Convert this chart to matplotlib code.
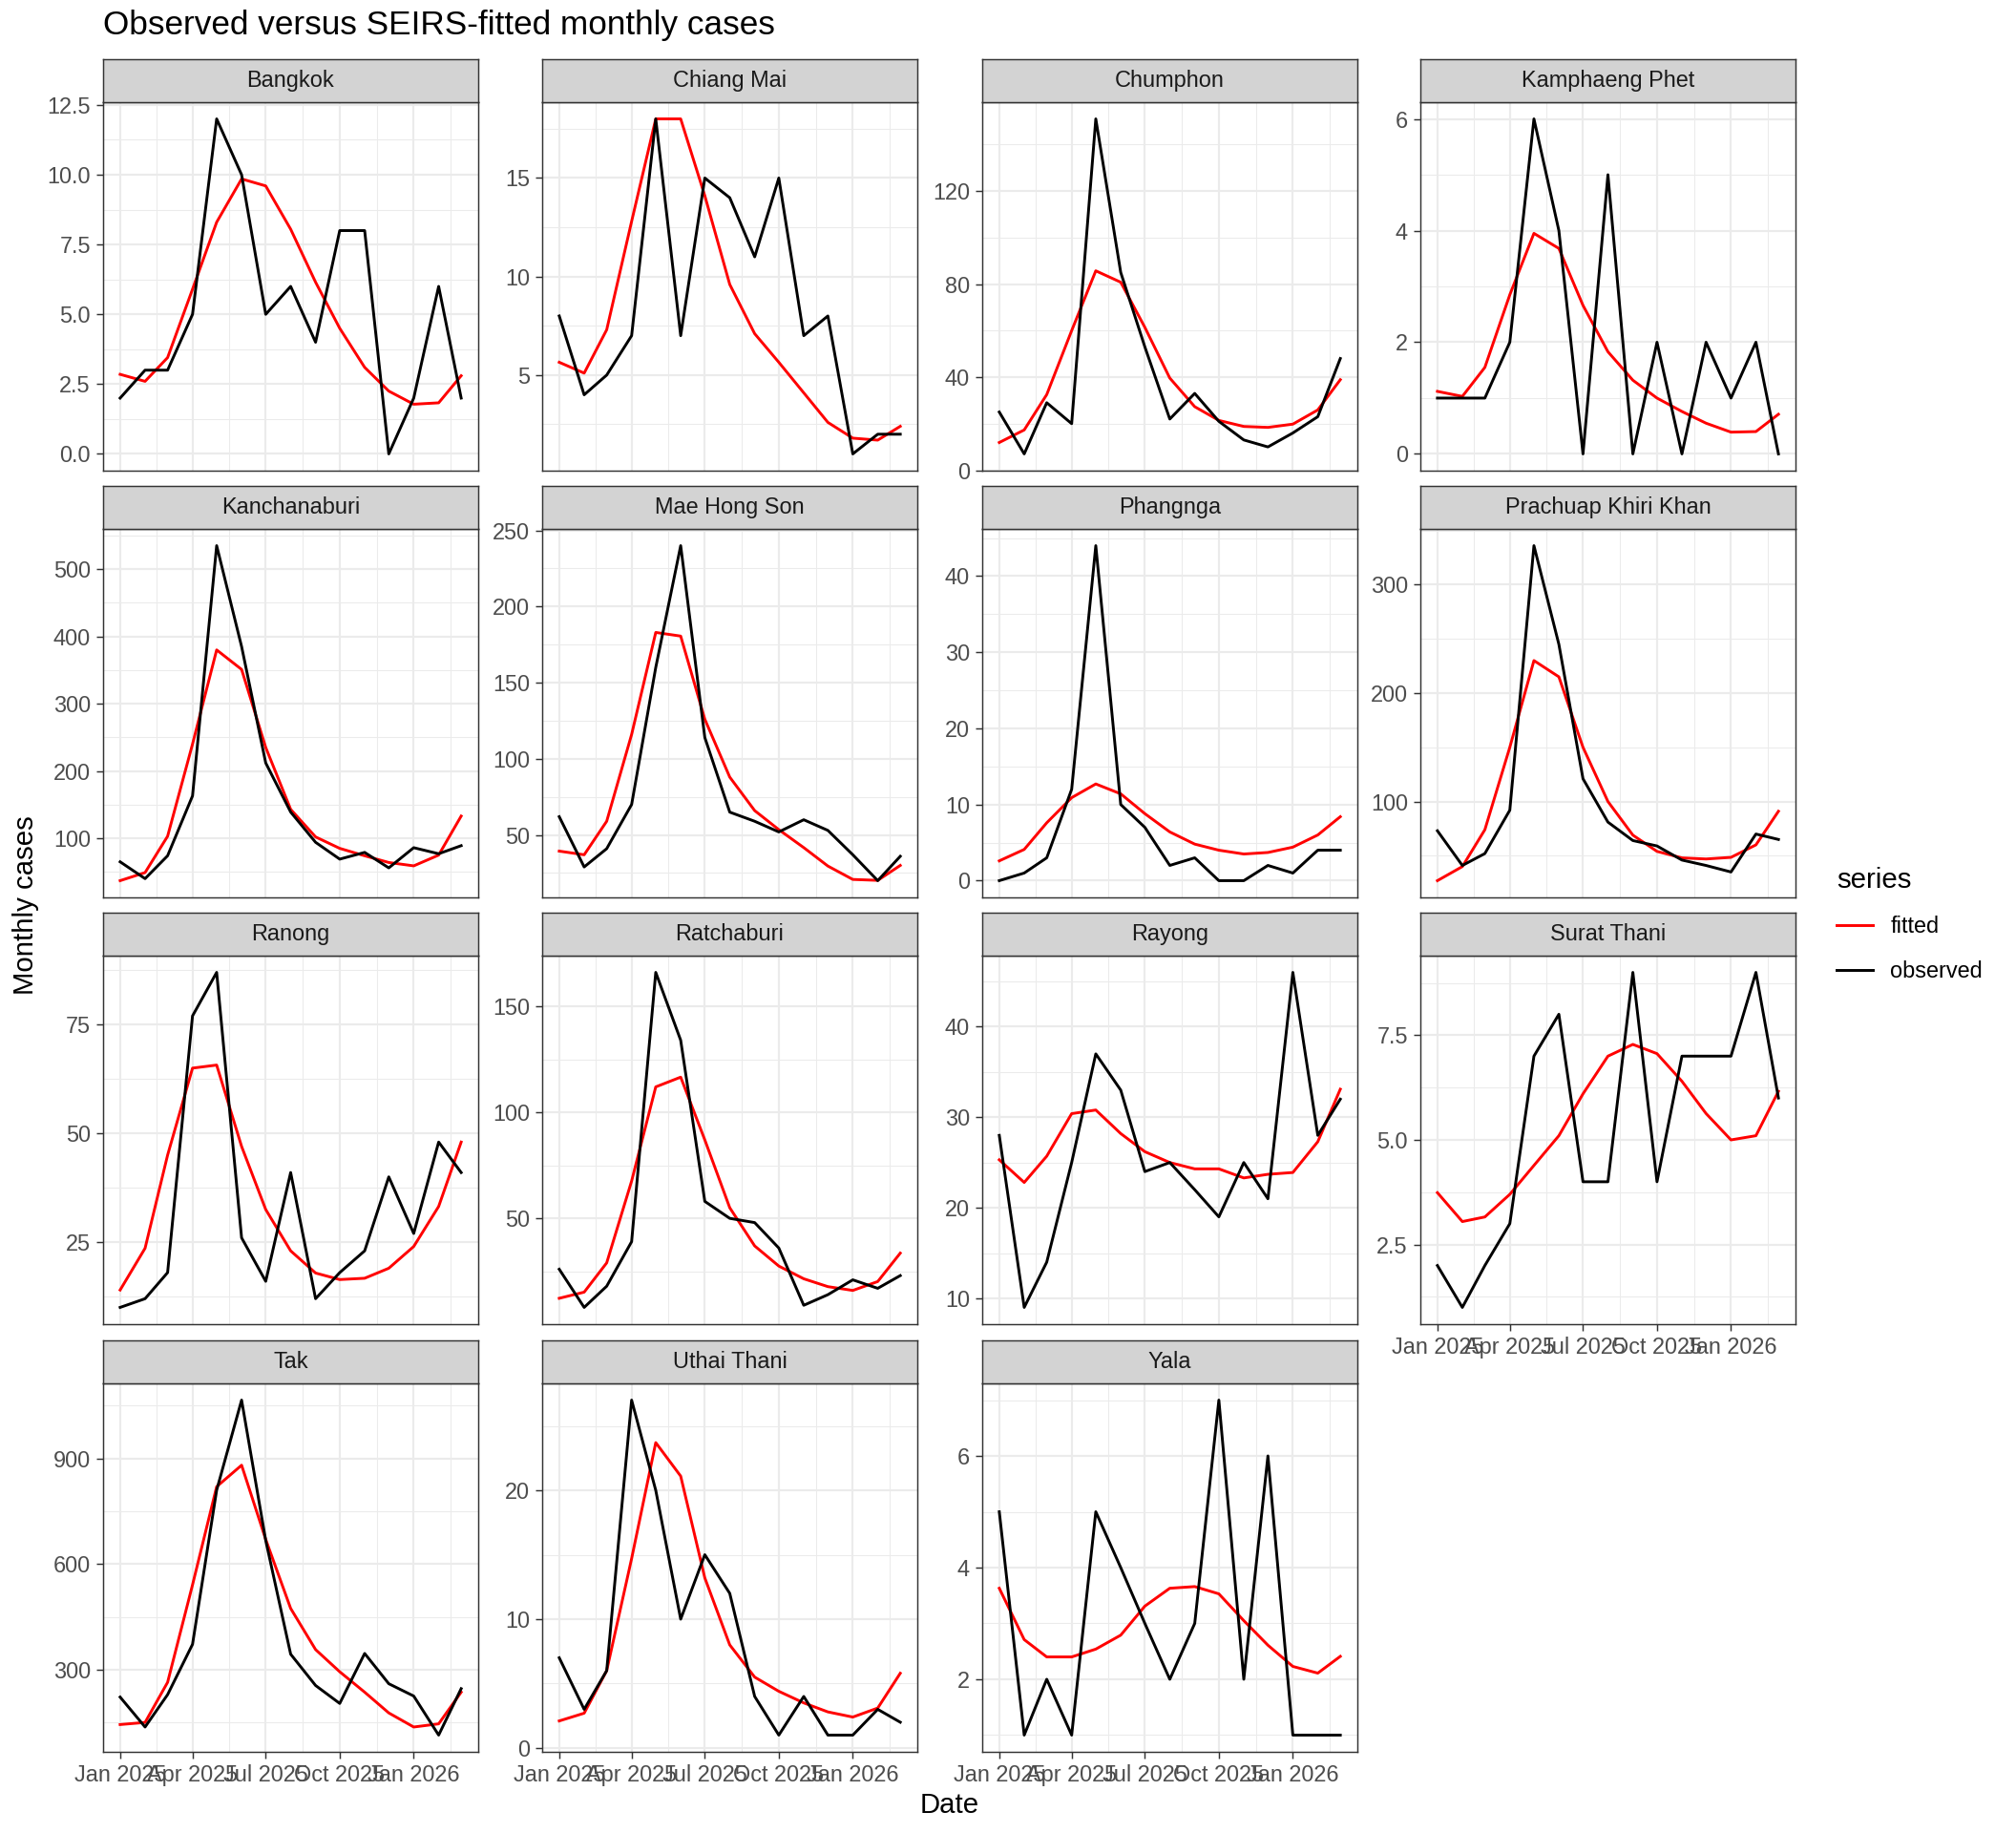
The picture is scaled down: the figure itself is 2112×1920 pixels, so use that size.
# Observed versus SEIRS-fitted monthly cases, one panel per province
import numpy as np
import pandas as pd
import matplotlib
matplotlib.use("Agg")
import matplotlib.pyplot as plt
import matplotlib.dates as mdates

plt.rcParams["font.family"] = ["Liberation Sans", "DejaVu Sans"]

# ----------------------------------------------------------
# data
# ----------------------------------------------------------

months = pd.date_range("2025-01-01", "2026-03-01", freq="MS")

provinces = [
    "Bangkok", "Chiang Mai", "Chumphon", "Kamphaeng Phet",
    "Kanchanaburi", "Mae Hong Son", "Phangnga", "Prachuap Khiri Khan",
    "Ranong", "Ratchaburi", "Rayong", "Surat Thani",
    "Tak", "Uthai Thani", "Yala",
]

bangkok_obs = [2, 3, 3, 5, 12, 10, 5, 6, 4, 8, 8, 0, 2, 6, 2]
bangkok_fit = [2.85, 2.6, 3.45, 5.9, 8.3, 9.85, 9.6, 8.05, 6.15, 4.5, 3.1, 2.25, 1.78, 1.83, 2.8]

chiang_mai_obs = [8, 4, 5, 7, 18, 7, 15, 14, 11, 15, 7, 8, 1, 2, 2]
chiang_mai_fit = [5.65, 5.1, 7.3, 12.8, 18.0, 18.0, 14.1, 9.6, 7.1, 5.65, 4.1, 2.6, 1.8, 1.7, 2.4]

chumphon_obs = [25, 7, 29, 20, 151, 85, 53, 22, 33, 21, 13, 10, 16, 23, 48]
chumphon_fit = [11.9, 17.3, 32.5, 60, 85.7, 80.8, 61.4, 39.6, 27.3, 21.4, 18.8, 18.4, 19.8, 25.9, 38.9]

kamphaeng_obs = [1, 1, 1, 2, 6, 4, 0, 5, 0, 2, 0, 2, 1, 2, 0]
kamphaeng_fit = [1.12, 1.03, 1.55, 2.85, 3.95, 3.68, 2.66, 1.83, 1.32, 1.0, 0.76, 0.55, 0.39, 0.40, 0.71]

kanchanaburi_obs = [65, 40, 74, 163, 535, 385, 212, 139, 94, 69, 79, 56, 86, 77, 89]
kanchanaburi_fit = [37, 49, 103, 240, 380, 351, 235, 143, 102, 85, 74, 64, 59, 75, 133]

mae_hong_son_obs = [62, 29, 41, 70, 160, 240, 114, 65, 59, 52, 60, 53, 37, 20, 36]
mae_hong_son_fit = [39.4, 37, 59, 116, 183, 180.6, 126, 88, 66, 53.5, 41.7, 29.6, 20.8, 20.2, 30]

phangnga_obs = [0, 1, 3, 12, 44, 10, 7, 2, 3, 0, 0, 2, 1, 4, 4]
phangnga_fit = [2.6, 4.1, 7.6, 10.9, 12.7, 11.4, 8.8, 6.4, 4.8, 4.0, 3.5, 3.7, 4.4, 6.0, 8.4]

prachuap_obs = [73, 41, 52, 92, 336, 245, 121, 81, 64, 59, 46, 41, 35, 70, 65]
prachuap_fit = [27, 40, 74, 150, 230, 215, 150, 100, 69, 54, 48, 47, 48.5, 60, 91]

ranong_obs = [10, 12, 18, 77, 87, 26, 16, 41, 12, 18, 23, 40, 27, 48, 41]
ranong_fit = [14, 23.6, 45, 65, 65.7, 47, 32.5, 23, 17.9, 16.4, 16.7, 19, 24, 33.2, 48]

ratchaburi_obs = [26, 8, 18, 39, 166, 134, 58, 50, 48, 36, 9, 14, 21, 17, 23]
ratchaburi_fit = [12.3, 15.2, 29, 67.6, 112, 116.6, 87, 55, 37, 27.5, 21.5, 17.8, 16, 20.2, 33.6]

rayong_obs = [28, 9, 14, 25, 37, 33, 24, 25, 22, 19, 25, 21, 46, 28, 32]
rayong_fit = [25.3, 22.8, 25.7, 30.4, 30.8, 28.2, 26.2, 25, 24.3, 24.3, 23.3, 23.7, 23.9, 27.3, 33.1]

surat_thani_obs = [2, 1, 2, 3, 7, 8, 4, 4, 9, 4, 7, 7, 7, 9, 6]
surat_thani_fit = [3.74, 3.05, 3.16, 3.7, 4.39, 5.1, 6.1, 7.0, 7.28, 7.06, 6.4, 5.63, 5.0, 5.1, 6.16]

tak_obs = [222, 137, 229, 372, 810, 1066, 667, 344, 255, 204, 346, 260, 225, 114, 246]
tak_fit = [144, 150, 264, 541, 820, 881, 670, 474, 357, 294, 236, 177, 137, 146, 236]

uthai_thani_obs = [7, 3, 6, 27, 20, 10, 15, 12, 4, 1, 4, 1, 1, 3, 2]
uthai_thani_fit = [2.1, 2.7, 6.0, 14.7, 23.7, 21.1, 13.2, 8.0, 5.5, 4.4, 3.5, 2.8, 2.4, 3.1, 5.8]

yala_obs = [5, 1, 2, 1, 5, 4, 3, 2, 3, 7, 2, 6, 1, 1, 1]
yala_fit = [3.63, 2.71, 2.4, 2.4, 2.54, 2.79, 3.31, 3.63, 3.66, 3.53, 3.05, 2.61, 2.23, 2.11, 2.41]

observed = [
    bangkok_obs, chiang_mai_obs, chumphon_obs, kamphaeng_obs,
    kanchanaburi_obs, mae_hong_son_obs, phangnga_obs, prachuap_obs,
    ranong_obs, ratchaburi_obs, rayong_obs, surat_thani_obs,
    tak_obs, uthai_thani_obs, yala_obs,
]
fitted = [
    bangkok_fit, chiang_mai_fit, chumphon_fit, kamphaeng_fit,
    kanchanaburi_fit, mae_hong_son_fit, phangnga_fit, prachuap_fit,
    ranong_fit, ratchaburi_fit, rayong_fit, surat_thani_fit,
    tak_fit, uthai_thani_fit, yala_fit,
]

# y breaks per panel (ggplot's choice)
y_breaks = [
    [0, 2.5, 5, 7.5, 10, 12.5], [5, 10, 15], [0, 40, 80, 120], [0, 2, 4, 6],
    [100, 200, 300, 400, 500], [50, 100, 150, 200, 250], [0, 10, 20, 30, 40], [100, 200, 300],
    [25, 50, 75], [50, 100, 150], [10, 20, 30, 40], [2.5, 5.0, 7.5],
    [300, 600, 900], [0, 10, 20], [2, 4, 6],
]
y_decimals = [1, 0, 0, 0, 0, 0, 0, 0, 0, 0, 0, 1, 0, 0, 0]

x_break_dates = pd.to_datetime(["2025-01-01", "2025-04-01", "2025-07-01", "2025-10-01", "2026-01-01"])
x_break_labels = ["Jan 2025", "Apr 2025", "Jul 2025", "Oct 2025", "Jan 2026"]

series_labels = ["fitted", "observed"]
series_colors = ["red", "black"]

# ----------------------------------------------------------
# layout (pixels of the 2112 x 1920 canvas)
# ----------------------------------------------------------

W, H = 2112, 1920
DPI = 192
col_left = [108, 568, 1029, 1488]
row_top = [62, 509, 956, 1404]
PW, PH, SH = 393, 386, 45

GRID = "#EBEBEB"
DARK = "#333333"
TXT = "#4D4D4D"

fig = plt.figure(figsize=(W / DPI, H / DPI), dpi=DPI)

xnum = mdates.date2num(months)
span = xnum[-1] - xnum[0]
xlim = (xnum[0] - 0.05 * span, xnum[-1] + 0.05 * span)
major_num = mdates.date2num(x_break_dates)
minor_num = (major_num[:-1] + major_num[1:]) / 2
minor_num = np.append(minor_num, major_num[-1] + (major_num[-1] - major_num[-2]) / 2)
minor_num = minor_num[(minor_num > xlim[0]) & (minor_num < xlim[1])]

bottom_panels = {11, 12, 13, 14}
handles = None

for i, name in enumerate(provinces):
    r, c = divmod(i, 4)
    left = col_left[c]
    top = row_top[r]

    ax = fig.add_axes([left / W, (H - top - SH - PH) / H, PW / W, PH / H])
    strip = fig.add_axes([left / W, (H - top - SH) / H, PW / W, SH / H])

    l1, = ax.plot(months, fitted[i], color=series_colors[0], lw=1.1, zorder=3)
    l2, = ax.plot(months, observed[i], color=series_colors[1], lw=1.1, zorder=4)
    if handles is None:
        handles = [l1, l2]

    vals = np.array(fitted[i] + observed[i], dtype=float)
    lo, hi = vals.min(), vals.max()
    pad = 0.05 * (hi - lo)
    ylim = (lo - pad, hi + pad)
    ax.set_ylim(*ylim)
    ax.set_xlim(*xlim)

    br = [b for b in y_breaks[i] if ylim[0] <= b <= ylim[1]]
    step = y_breaks[i][1] - y_breaks[i][0]
    minors = np.arange(y_breaks[i][0] - step / 2, ylim[1], step)
    minors = [m for m in minors if ylim[0] <= m <= ylim[1]]
    ax.set_yticks(br)
    ax.set_yticklabels([f"{b:.{y_decimals[i]}f}" for b in br])
    ax.set_yticks(minors, minor=True)

    ax.set_xticks(major_num)
    ax.set_xticks(minor_num, minor=True)
    if i in bottom_panels:
        ax.set_xticklabels(x_break_labels)
        ax.tick_params(axis="x", which="major", length=7.3 * 72 / DPI, width=0.55,
                       color=DARK, labelsize=8.8, labelcolor=TXT, pad=2.2)
    else:
        ax.set_xticklabels([])
        ax.tick_params(axis="x", which="major", length=0)

    ax.tick_params(axis="y", which="major", length=7.3 * 72 / DPI, width=0.55,
                   color=DARK, labelsize=8.8, labelcolor=TXT, pad=2.2)
    ax.tick_params(which="minor", length=0)

    ax.grid(which="major", color=GRID, lw=0.8)
    ax.grid(which="minor", color=GRID, lw=0.4)
    ax.set_axisbelow(True)
    for s in ax.spines.values():
        s.set_color(DARK)
        s.set_linewidth(0.55)

    strip.set_facecolor("#D3D3D3")
    strip.set_xticks([])
    strip.set_yticks([])
    for s in strip.spines.values():
        s.set_color(DARK)
        s.set_linewidth(0.55)
    strip.text(0.5, 0.5, name, ha="center", va="center",
               fontsize=8.8, color="#1A1A1A", transform=strip.transAxes)

# ----------------------------------------------------------
# titles and legend
# ----------------------------------------------------------

fig.text(108 / W, 1 - 36 / H, "Observed versus SEIRS-fitted monthly cases",
         fontsize=13.2, ha="left", va="baseline")
fig.text(995 / W, 1 - 1891 / H, "Date", fontsize=11, ha="center", va="center")
fig.text(27 / W, 1 - 948 / H, "Monthly cases", fontsize=11, ha="center",
         va="center", rotation=90)

fig.legend(handles, series_labels, title="series", loc="upper left",
           bbox_to_anchor=(1924 / W, 1 - 908 / H), frameon=False,
           fontsize=8.8, title_fontsize=11, handlelength=1.6,
           handletextpad=0.8, labelspacing=1.0, alignment="left",
           borderpad=0, borderaxespad=0)

fig.savefig("out.png", dpi=DPI)
